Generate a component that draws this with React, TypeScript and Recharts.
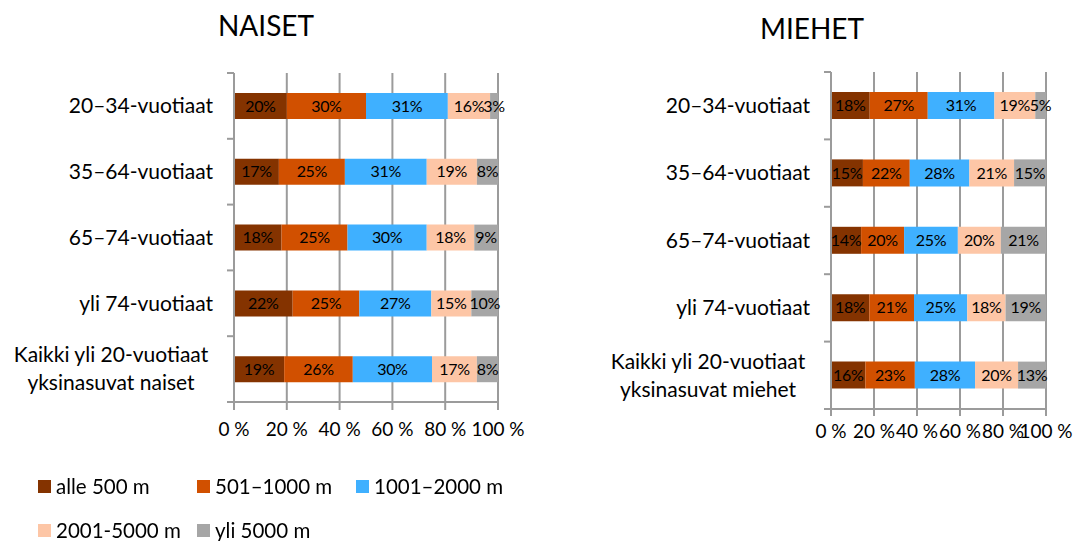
import { Bar, BarChart, CartesianGrid, LabelList, Legend, XAxis, YAxis } from "recharts"

const categoriesNaiset = [
  "20–34-vuotiaat",
  "35–64-vuotiaat",
  "65–74-vuotiaat",
  "yli 74-vuotiaat",
  "Kaikki yli 20-vuotiaat\nyksinasuvat naiset",
]
const categoriesMiehet = [
  "20–34-vuotiaat",
  "35–64-vuotiaat",
  "65–74-vuotiaat",
  "yli 74-vuotiaat",
  "Kaikki yli 20-vuotiaat\nyksinasuvat miehet",
]

const seriesNames = ["alle 500 m", "501–1000 m", "1001–2000 m", "2001-5000 m", "yli 5000 m"]
const seriesColors = ["#843300", "#d15000", "#3fb0ff", "#fdc6a6", "#a6a6a6"]

// naiset, % per distance class
const naisetAlle500 = [20, 17, 18, 22, 19]
const naiset501 = [30, 25, 25, 25, 26]
const naiset1001 = [31, 31, 30, 27, 30]
const naiset2001 = [16, 19, 18, 15, 17]
const naisetYli5000 = [3, 8, 9, 10, 8]

// miehet
const miehetAlle500 = [18, 15, 14, 18, 16]
const miehet501 = [27, 22, 20, 21, 23]
const miehet1001 = [31, 28, 25, 25, 28]
const miehet2001 = [19, 21, 20, 18, 20]
const miehetYli5000 = [5, 15, 21, 19, 13]

const xTicks = [0, 0.2, 0.4, 0.6, 0.8, 1]

const FONT = "Lato, 'Open Sans', sans-serif"
const AXIS = "#9b9b9b"

function buildRows(categories: string[], cols: number[][]) {
  return categories.map((c, i) => {
    const row: Record<string, string | number> = { category: c }
    seriesNames.forEach((s, k) => {
      row[s] = cols[k][i]
    })
    return row
  })
}

const naisetData = buildRows(categoriesNaiset, [naisetAlle500, naiset501, naiset1001, naiset2001, naisetYli5000])
const miehetData = buildRows(categoriesMiehet, [miehetAlle500, miehet501, miehet1001, miehet2001, miehetYli5000])

function CategoryTick(props: any) {
  const { y, payload, axisX, band, isLast } = props
  const lines = String(payload.value).split("\n")
  return (
    <g>
      <line x1={axisX - 7} x2={axisX} y1={y - band / 2} y2={y - band / 2} stroke={AXIS} strokeWidth={2} />
      {isLast(payload.value) && (
        <line x1={axisX - 7} x2={axisX} y1={y + band / 2} y2={y + band / 2} stroke={AXIS} strokeWidth={2} />
      )}
      {lines.length === 1 ? (
        <text x={axisX - 21} y={y} dy="0.35em" textAnchor="end" fontSize={21} fontFamily={FONT} fill="#000">
          {lines[0]}
        </text>
      ) : (
        lines.map((l, i) => (
          <text
            key={i}
            x={axisX - 123}
            y={y + (i - (lines.length - 1) / 2) * 28}
            dy="0.35em"
            textAnchor="middle"
            fontSize={21}
            fontFamily={FONT}
            fill="#000"
          >
            {l}
          </text>
        ))
      )}
    </g>
  )
}

function LegendContent(props: any) {
  const payload = [...(props.payload || [])].sort(
    (a: any, b: any) => seriesNames.indexOf(a.value) - seriesNames.indexOf(b.value)
  )
  return (
    <div style={{ display: "flex", flexWrap: "wrap", width: 480, fontFamily: FONT, fontSize: 20.5, rowGap: 20 }}>
      {payload.map((p: any) => (
        <div key={p.value} style={{ width: 159, height: 24, display: "flex", alignItems: "center" }}>
          <span style={{ width: 13, height: 13, background: p.color, marginRight: 5, display: "inline-block" }} />
          <span>{p.value}</span>
        </div>
      ))}
    </div>
  )
}

type PanelProps = {
  data: Record<string, string | number>[]
  categories: string[]
  width: number
  yAxisWidth: number
  top: number
  right: number
  plotBottom: number
  labelGap: number
  tickLen: number
  barSize: number
  showLegend?: boolean
}

function Panel({ data, categories, width, yAxisWidth, top, right, plotBottom, labelGap, tickLen, barSize, showLegend }: PanelProps) {
  const height = 541
  const band = (plotBottom - top) / categories.length
  const last = categories[categories.length - 1]
  return (
    <BarChart
      width={width}
      height={height}
      data={data}
      layout="vertical"
      stackOffset="expand"
      barSize={barSize}
      margin={{ top, right, left: 0, bottom: height - plotBottom - 40 }}
    >
      <CartesianGrid horizontal={false} vertical stroke={AXIS} strokeWidth={2} />
      <XAxis
        type="number"
        domain={[0, 1]}
        ticks={xTicks}
        tickFormatter={(v: number) => `${Math.round(v * 100)} %`}
        height={40}
        tickSize={tickLen}
        tickMargin={labelGap}
        axisLine={{ stroke: AXIS, strokeWidth: 2 }}
        tickLine={{ stroke: AXIS, strokeWidth: 2 }}
        tick={{ fill: "#000", fontSize: 19, fontFamily: FONT }}
        interval={0}
      />
      <YAxis
        type="category"
        dataKey="category"
        width={yAxisWidth}
        axisLine={{ stroke: AXIS, strokeWidth: 2 }}
        tickLine={false}
        interval={0}
        tick={<CategoryTick axisX={yAxisWidth} band={band} isLast={(v: string) => v === last} />}
      />
      {showLegend && (
        <Legend
          layout="horizontal"
          verticalAlign="middle"
          align="center"
          content={<LegendContent />}
          wrapperStyle={{ position: "absolute", left: 38, top: 474, width: 480, height: 70 }}
        />
      )}
      {seriesNames.map((s, k) => (
        <Bar key={s} dataKey={s} stackId="a" fill={seriesColors[k]} isAnimationActive={false}>
          <LabelList
            dataKey={s}
            position="center"
            formatter={(v: any) => `${v}%`}
            style={{ fill: "#000", fontSize: 16, fontFamily: FONT, letterSpacing: -0.3 }}
          />
        </Bar>
      ))}
    </BarChart>
  )
}

export default function App() {
  return (
    <div style={{ position: "fixed", left: 0, top: 0, width: 1075, height: 541, background: "#fff", fontFamily: FONT }}>
      <div style={{ position: "absolute", left: 166, width: 200, top: 8, textAlign: "center", fontSize: 28, color: "#000" }}>
        NAISET
      </div>
      <div style={{ position: "absolute", left: 712, width: 200, top: 11, textAlign: "center", fontSize: 28, color: "#000" }}>
        MIEHET
      </div>
      <div style={{ position: "absolute", left: 0, top: 0 }}>
        <Panel
          data={naisetData}
          categories={categoriesNaiset}
          width={545}
          yAxisWidth={234}
          top={73}
          right={47}
          plotBottom={402}
          labelGap={13}
          tickLen={8}
          barSize={26}
          showLegend
        />
      </div>
      <div style={{ position: "absolute", left: 540, top: 0 }}>
        <Panel
          data={miehetData}
          categories={categoriesMiehet}
          width={535}
          yAxisWidth={291}
          top={72}
          right={29}
          plotBottom={409}
          labelGap={9}
          tickLen={7}
          barSize={27}
        />
      </div>
    </div>
  )
}
